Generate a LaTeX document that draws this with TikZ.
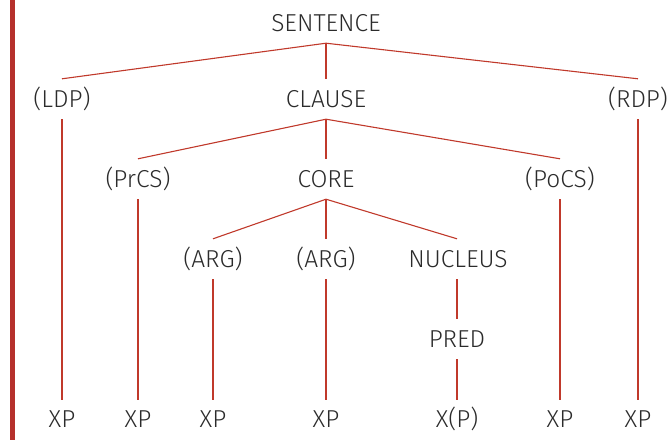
\documentclass[tikz,border=0pt]{standalone}
\usepackage{fontspec}
\setmainfont{Fira Sans}[UprightFont=* Light]
\definecolor{treered}{HTML}{C0392B}
\definecolor{barred}{HTML}{B5302C}
\definecolor{txt}{HTML}{2B2B2B}
\begin{document}
\begin{tikzpicture}[x=1pt,y=-1pt,
  lab/.style={inner sep=0pt, minimum height=40pt, text height=17pt, text depth=0pt,
    font=\fontsize{24.5}{26}\selectfont, text=txt},
  edge/.style={draw=treered, line width=1.1pt}]
\useasboundingbox (0,0) rectangle (667,440);
\fill[barred] (10,0) rectangle (14.5,440);
\node[lab] (S) at (326,23) {SENTENCE};
\node[lab] (LDP) at (62,99) {(LDP)};
\node[lab] (CL) at (326,99) {CLAUSE};
\node[lab] (RDP) at (638,99) {(RDP)};
\node[lab] (PrCS) at (138,179) {(PrCS)};
\node[lab] (CO) at (326,179) {CORE};
\node[lab] (PoCS) at (560,179) {(PoCS)};
\node[lab] (A1) at (213,259) {(ARG)};
\node[lab] (A2) at (326,259) {(ARG)};
\node[lab] (NU) at (458,259) {NUCLEUS};
\node[lab] (PR) at (457,339) {PRED};
\node[lab,minimum height=38pt] (X1) at (62,419) {XP};
\node[lab,minimum height=38pt] (X2) at (138,419) {XP};
\node[lab,minimum height=38pt] (X3) at (213,419) {XP};
\node[lab,minimum height=38pt] (X4) at (326,419) {XP};
\node[lab,minimum height=38pt] (X5) at (457,419) {X(P)};
\node[lab,minimum height=38pt] (X6) at (560,419) {XP};
\node[lab,minimum height=38pt] (X7) at (638,419) {XP};
\path[edge] (S.south) -- (LDP.north);
\path[edge] (S.south) -- (CL.north);
\path[edge] (S.south) -- (RDP.north);
\path[edge] (LDP.south) -- (X1.north);
\path[edge] (RDP.south) -- (X7.north);
\path[edge] (CL.south) -- (PrCS.north);
\path[edge] (CL.south) -- (CO.north);
\path[edge] (CL.south) -- (PoCS.north);
\path[edge] (PrCS.south) -- (X2.north);
\path[edge] (PoCS.south) -- (X6.north);
\path[edge] (CO.south) -- (A1.north);
\path[edge] (CO.south) -- (A2.north);
\path[edge] (CO.south) -- ([xshift=-1pt]NU.north);
\path[edge] (A1.south) -- (X3.north);
\path[edge] (A2.south) -- (X4.north);
\path[edge] ([xshift=-1pt]NU.south) -- (PR.north);
\path[edge] (PR.south) -- (X5.north);
\end{tikzpicture}
\end{document}
